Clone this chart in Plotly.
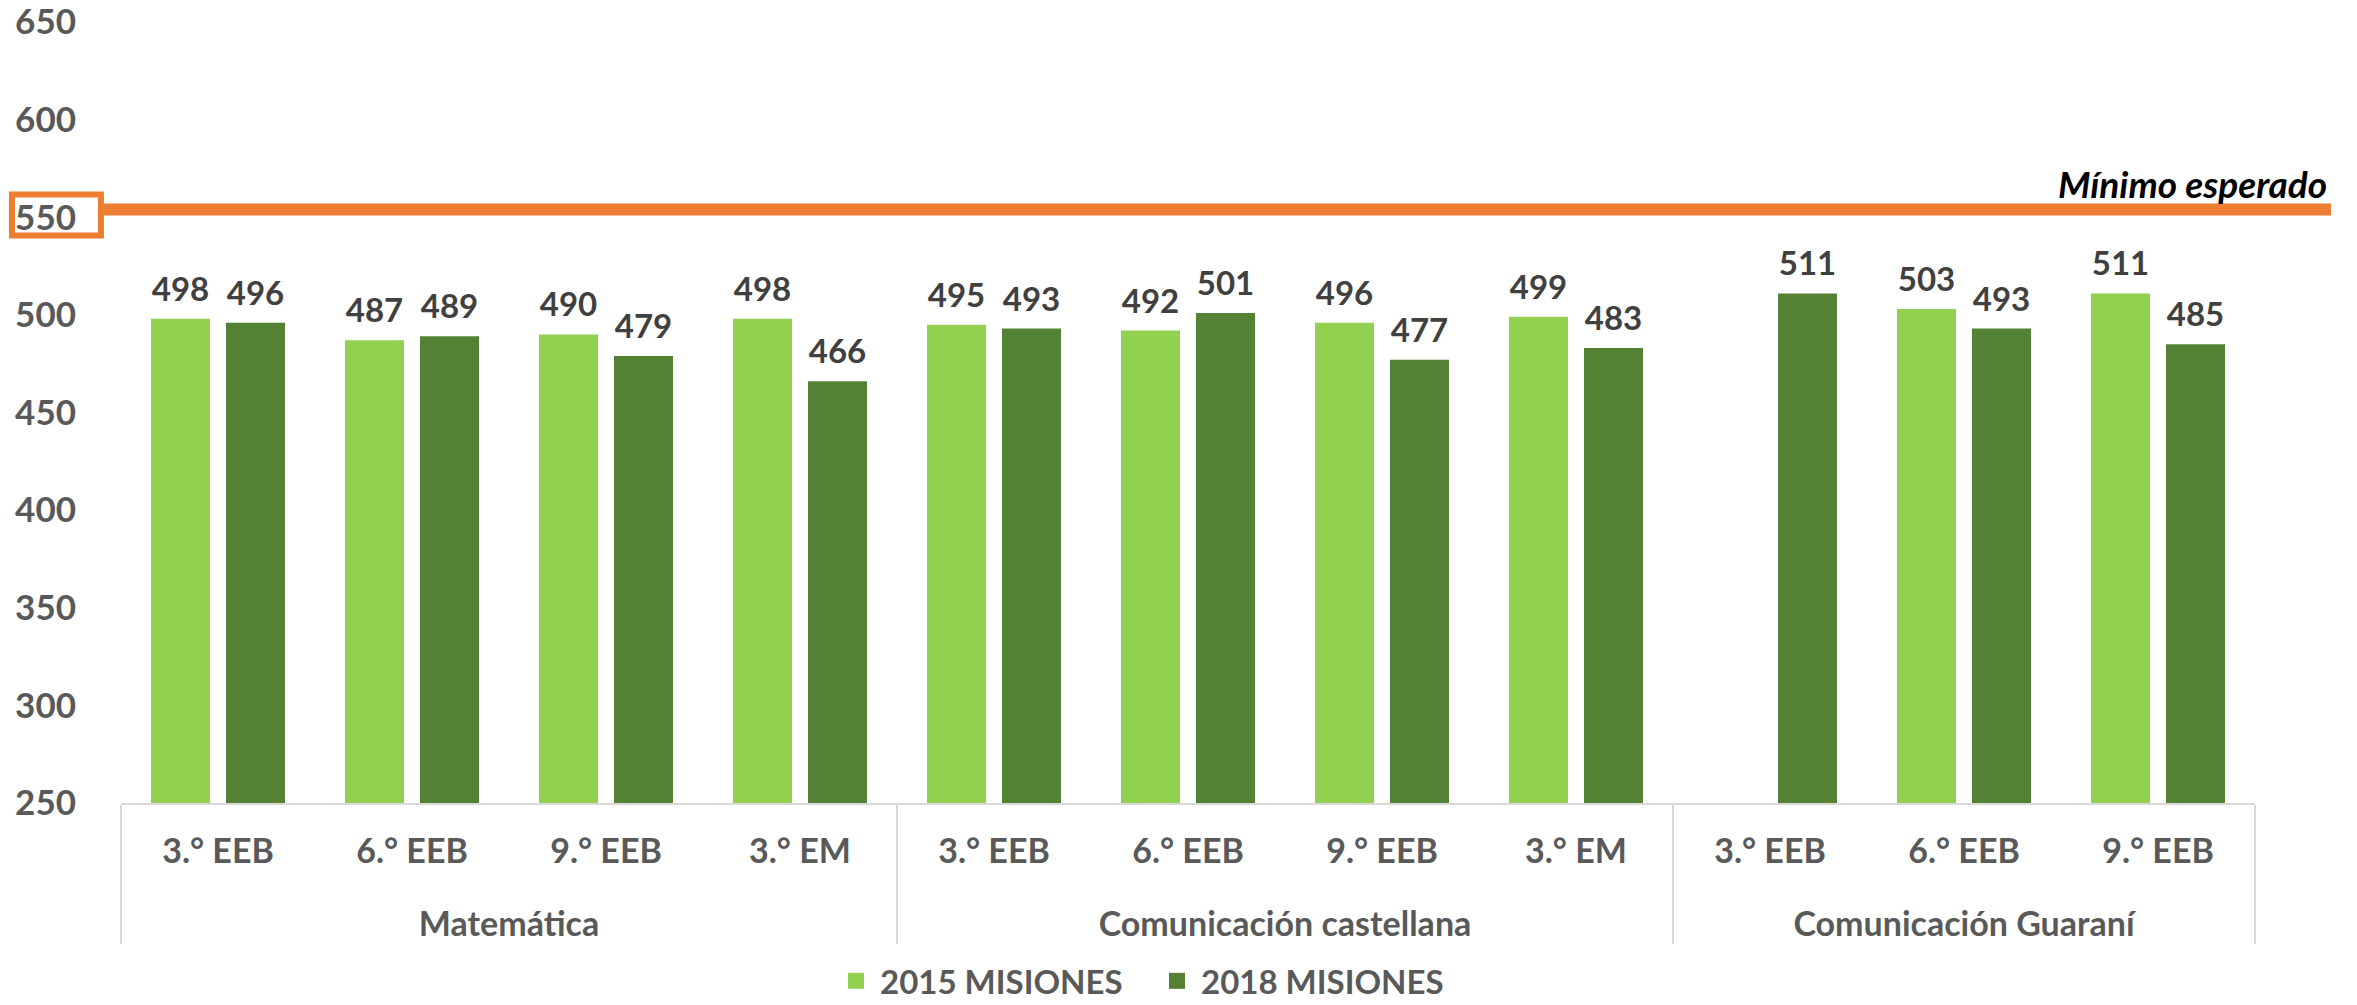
import plotly.graph_objects as go

# data
materias = ["Matemática"] * 4 + ["Comunicación castellana"] * 4 + ["Comunicación Guaraní"] * 3
grados = ["3.° EEB", "6.° EEB", "9.° EEB", "3.° EM",
          "3.° EEB", "6.° EEB", "9.° EEB", "3.° EM",
          "3.° EEB", "6.° EEB", "9.° EEB"]
misiones_2015 = [498, 487, 490, 498, 495, 492, 496, 499, None, 503, 511]
misiones_2018 = [496, 489, 479, 466, 493, 501, 477, 483, 511, 493, 485]
minimo_esperado = 554
y_ticks = [250, 300, 350, 400, 450, 500, 550, 600, 650]

FONT = "Lato"
GRAY = "#595959"
LIGHT = "#92D050"
DARK = "#548235"
ORANGE = "#ED7D31"


def labels(vals):
    # small blank second line lifts the number a bit off the bar
    return ["" if v is None else f"<span style='font-size:33px'>{v}</span><br><span> </span>" for v in vals]


# a wide blank on each side of the grade labels makes the first label row taller,
# which pushes the subject row further down like in the original
pad = "<span style='font-size:73px'>&nbsp;</span>"
grados_txt = [pad + g + pad for g in grados]

fig = go.Figure()

for name, vals, color in [("2015 MISIONES", misiones_2015, LIGHT),
                          ("2018 MISIONES", misiones_2018, DARK)]:
    fig.add_trace(go.Bar(
        x=[materias, grados_txt],
        y=vals,
        name=name,
        marker=dict(color=color, line=dict(width=0)),
        text=labels(vals),
        textposition="outside",
        constraintext="none",
        textfont=dict(family=FONT, size=10, color="#404040", weight="bold"),
        cliponaxis=False,
        showlegend=False,
    ))
    # legend entry with a bigger square
    fig.add_trace(go.Scatter(
        x=[[materias[0]], [grados_txt[0]]],
        y=[None],
        mode="markers",
        name=name,
        marker=dict(symbol="square", size=21, color=color),
    ))

# minimum expected line + box around 550
fig.add_shape(type="line", xref="paper", yref="y",
              x0=-0.008, x1=1.0356, y0=minimo_esperado, y1=minimo_esperado,
              line=dict(color=ORANGE, width=12))
fig.add_shape(type="rect", xref="paper", yref="y",
              x0=-0.0511, x1=-0.0094, y0=540.7, y1=561.7,
              line=dict(color=ORANGE, width=6), fillcolor="rgba(0,0,0,0)")
fig.add_annotation(text="Mínimo esperado", xref="paper", yref="y",
                   x=1.0347, y=minimo_esperado, xanchor="right", yanchor="bottom",
                   yshift=1, showarrow=False,
                   font=dict(family=FONT, size=37, color="black", weight="bold", style="italic"))

fig.update_layout(
    width=2357,
    height=1005,
    margin=dict(l=121, r=102, t=22, b=202),
    plot_bgcolor="white",
    paper_bgcolor="white",
    barmode="group",
    bargap=0.227,
    bargroupgap=0.213,
    font=dict(family=FONT, color=GRAY),
    legend=dict(orientation="h", xref="container", yref="container",
                x=0.353, xanchor="left", y=0.024, yanchor="middle",
                font=dict(family=FONT, size=33, color=GRAY, weight="bold"),
                itemwidth=38, entrywidth=268),
)

fig.update_xaxes(
    type="multicategory",
    range=[-0.5, len(grados) - 0.5],
    automargin=False,
    showline=True, linecolor="#D9D9D9", linewidth=2,
    showdividers=True, dividercolor="#D9D9D9", dividerwidth=2,
    tickfont=dict(family=FONT, size=34, color=GRAY, weight="bold"),
    tickangle=0,
    ticks="",
    ticklabelstandoff=17,
    showgrid=False,
)
fig.update_yaxes(
    range=[250, 650],
    tickvals=y_ticks,
    automargin=False,
    ticklabeloverflow="allow",
    showgrid=False, zeroline=False, showline=False,
    ticks="",
    ticklabelstandoff=44,
    tickfont=dict(family=FONT, size=35, color=GRAY, weight="bold"),
)

# the page's default 8px body margin would shift the whole figure
fig.write_html("out.html", config={"displayModeBar": False},
               post_script="document.body.style.margin='0';")
